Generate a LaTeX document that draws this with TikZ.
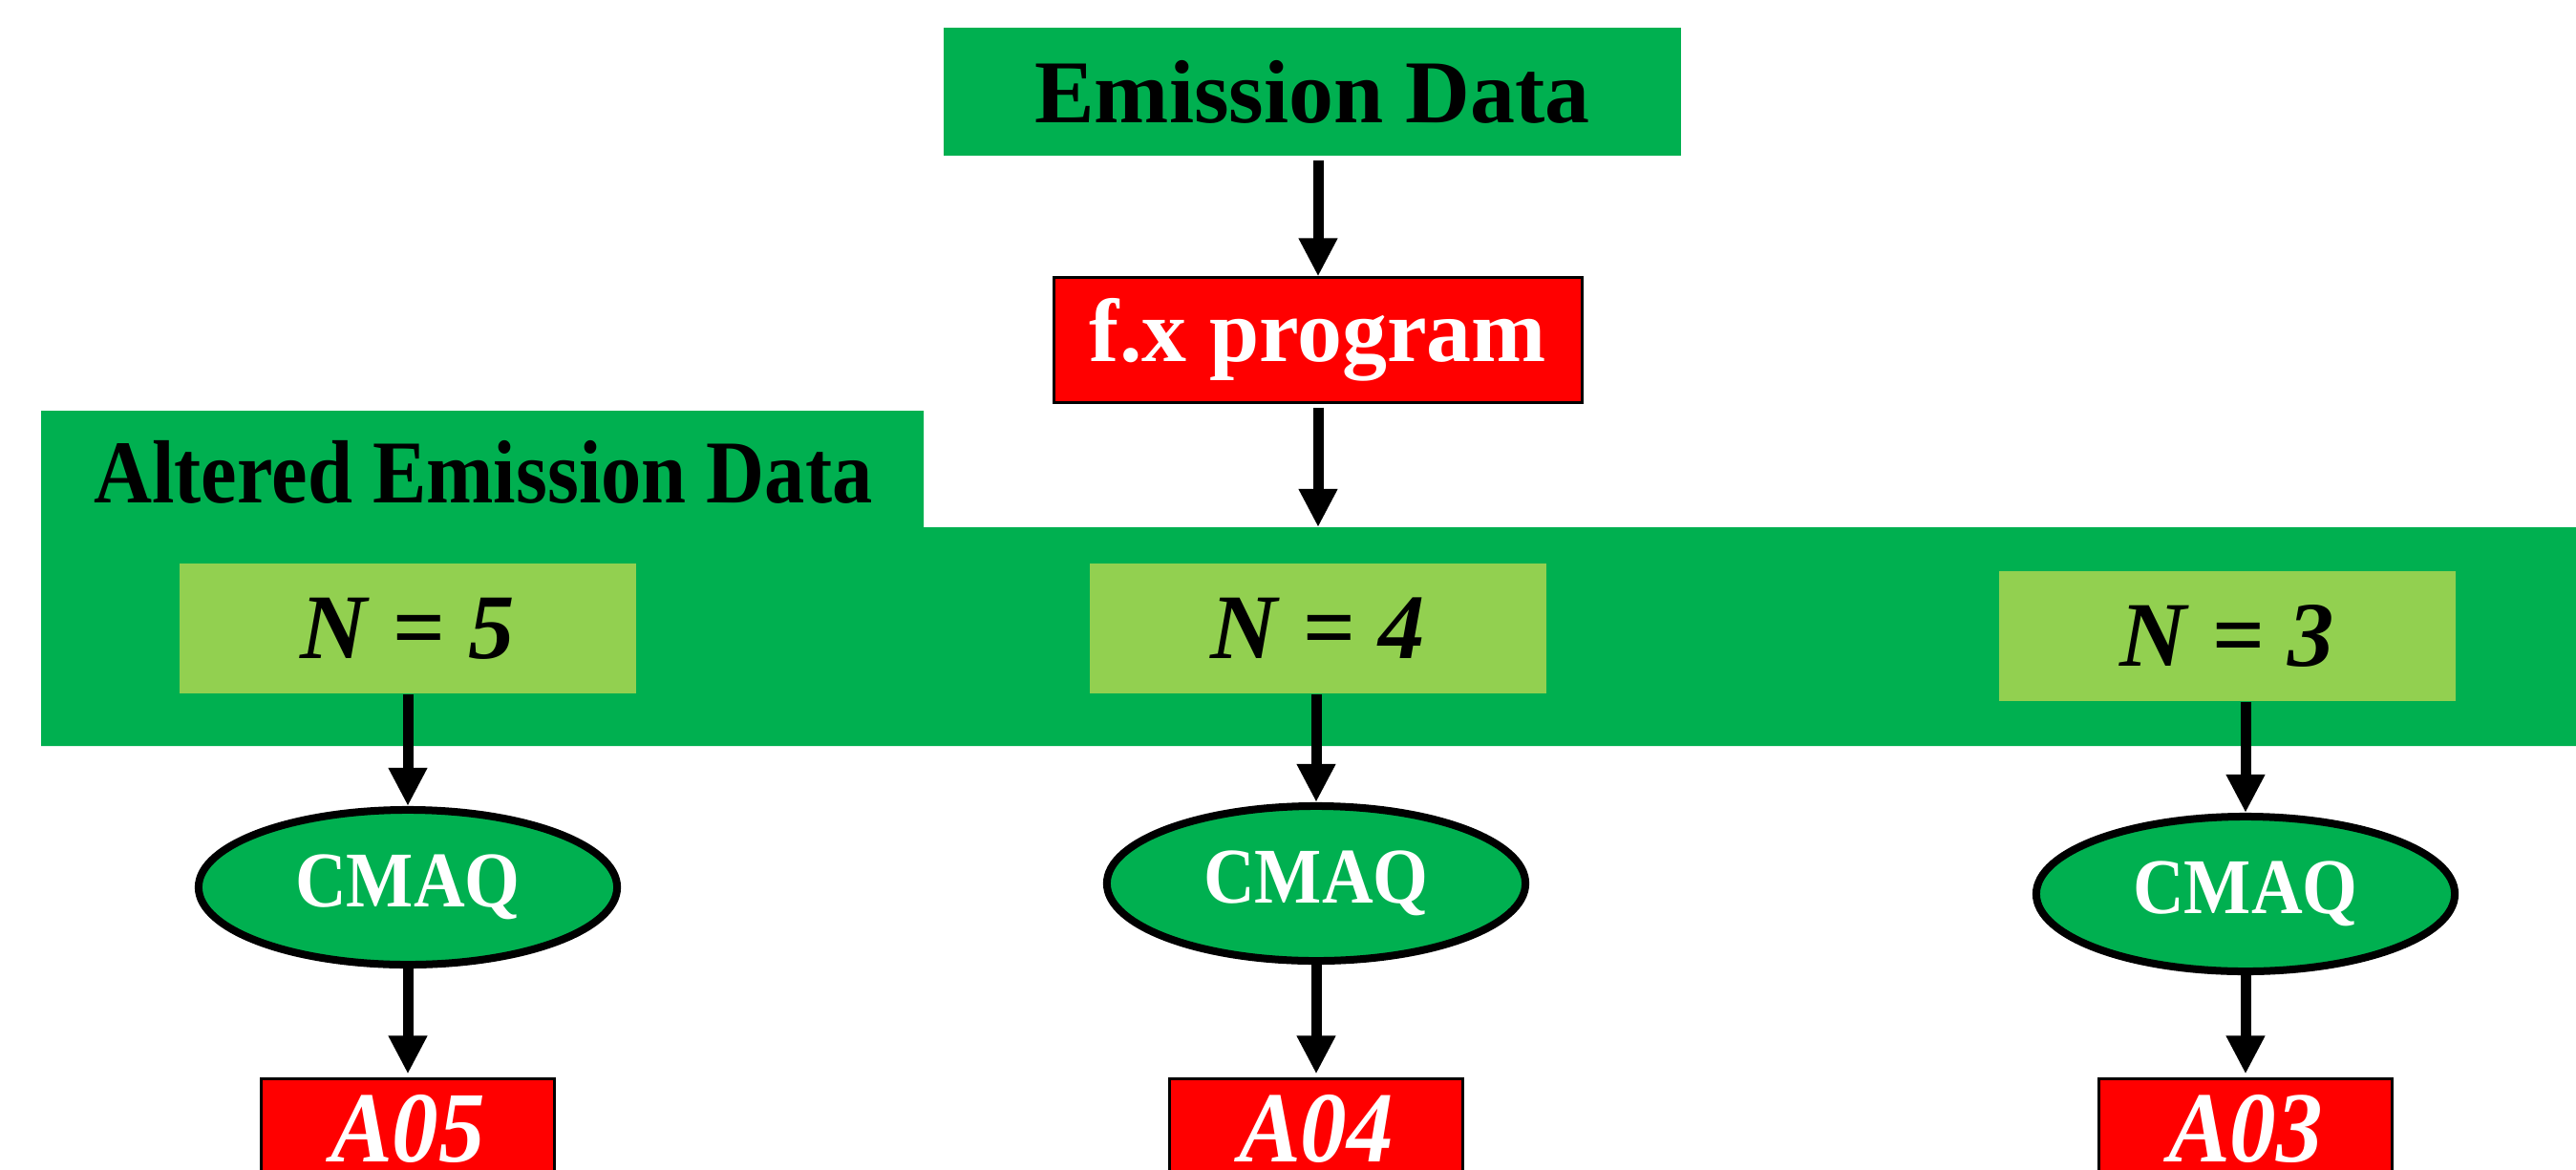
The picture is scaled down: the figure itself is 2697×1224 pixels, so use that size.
\documentclass[tikz,border=0pt]{standalone}
\usepackage{fontspec}
\setmainfont{Liberation Serif}
\usetikzlibrary{arrows.meta,shapes.geometric}
\definecolor{dgreen}{HTML}{00B050}
\definecolor{lgreen}{HTML}{92D050}
\definecolor{bred}{HTML}{FF0000}
\begin{document}
\begin{tikzpicture}[x=0.01cm,y=-0.01cm,
  arr/.style={line width=0.11cm,-{Triangle[width=0.38cm,length=0.40cm]}},
  bigtxt/.style={font=\fontsize{26.7}{30}\selectfont\bfseries},
  greenbox/.style={rectangle,fill=dgreen,inner sep=0pt,bigtxt},
  redbox/.style={rectangle,fill=bred,draw=black,line width=0.03cm,inner sep=0pt,text=white},
  nbox/.style={rectangle,fill=lgreen,inner sep=0pt,minimum width=4.78cm,minimum height=1.36cm,font=\fontsize{27.5}{30}\selectfont\bfseries\itshape},
  cmaq/.style={ellipse,fill=dgreen,draw=black,line width=0.08cm,minimum width=4.38cm,minimum height=1.62cm,inner sep=0pt,text=white,font=\fontsize{23.5}{26}\selectfont\bfseries},
  outbox/.style={redbox,minimum width=3.07cm,minimum height=1.04cm,font=\fontsize{30}{32}\selectfont\bfseries\itshape}]
\useasboundingbox (0,0) rectangle (2697,1224);
\clip (0,0) rectangle (2697,1224);
% Altered emission data region
\fill[dgreen] (43,430) -- (967,430) -- (967,552) -- (2697,552) -- (2697,781) -- (43,781) -- cycle;
\coordinate (alttop) at (1380,552);
\node[bigtxt,anchor=center] (alt) at (506,494) {\scalebox{0.9}[1]{Altered Emission Data}};
% top nodes
\node[greenbox,minimum width=7.71cm,minimum height=1.34cm] (ed) at (1374,96) {Emission Data};
\node[redbox,bigtxt,text=white,minimum width=5.53cm,minimum height=1.30cm] (fx) at (1380,356) {f.x program};
% N boxes
\node[nbox] (n5) at (427,658) {N \textup{=} 5};
\node[nbox] (n4) at (1380,658) {N \textup{=} 4};
\node[nbox] (n3) at (2332,666) {N \textup{=} 3};
% CMAQ ellipses
\node[cmaq] (e5) at (427,929) {\scalebox{0.9}[1]{CMAQ}};
\node[cmaq] (e4) at (1378,925) {\scalebox{0.9}[1]{CMAQ}};
\node[cmaq] (e3) at (2351,936) {\scalebox{0.9}[1]{CMAQ}};
% outputs
\node[outbox] (a5) at (427,1182) {\scalebox{0.92}[1]{A05}};
\node[outbox] (a4) at (1378,1182) {\scalebox{0.92}[1]{A04}};
\node[outbox] (a3) at (2351,1182) {\scalebox{0.92}[1]{A03}};
% connectors
\draw[arr] ([yshift=-0.04cm]ed.south -| fx.north) -- (fx.north);
\draw[arr] ([yshift=-0.04cm]fx.south) -- (alttop);
\draw[arr] (n5.south -| e5.north) -- (e5.north);
\draw[arr] (n4.south -| e4.north) -- (e4.north);
\draw[arr] (n3.south -| e3.north) -- (e3.north);
\draw[arr] (e5.south) -- ([yshift=0.04cm]a5.north);
\draw[arr] (e4.south) -- ([yshift=0.04cm]a4.north);
\draw[arr] (e3.south) -- ([yshift=0.04cm]a3.north);
\end{tikzpicture}
\end{document}
